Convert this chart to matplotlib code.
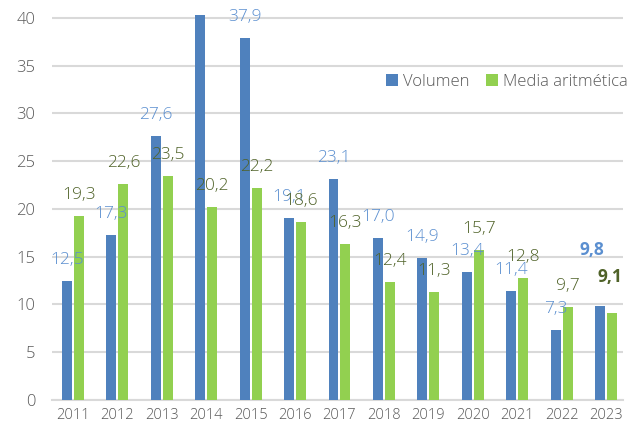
import numpy as np
import matplotlib
matplotlib.use('Agg')
from matplotlib import pyplot as plt

years = ['2011', '2012', '2013', '2014', '2015', '2016', '2017',
         '2018', '2019', '2020', '2021', '2022', '2023']
volumen = [12.5, 17.3, 27.6, 44.0, 37.9, 19.1, 23.1, 17.0, 14.9, 13.4, 11.4, 7.3, 9.8]
media = [19.3, 22.6, 23.5, 20.2, 22.2, 18.6, 16.3, 12.4, 11.3, 15.7, 12.8, 9.7, 9.1]
yticks = [0, 5, 10, 15, 20, 25, 30, 35, 40]

blue = '#4F81BD'
green = '#92D050'
blue_txt = '#5B8FD0'
green_txt = '#4F6228'
grey_txt = '#595959'

plt.rcParams['font.family'] = ['Open Sans', 'DejaVu Sans']

fig = plt.figure(figsize=(6.34, 4.30), dpi=100)
ax = fig.add_axes([52/634, 30/430, 571/634, 384.9/430])

x = np.arange(len(years))
w = 0.225
off = 0.135
ax.bar(x - off, volumen, w, color=blue, label='Volumen', zorder=3)
ax.bar(x + off, media, w, color=green, label='Media aritmética', zorder=3)

ymax = 40.3
ax.set_ylim(0, ymax)
ax.set_xlim(-0.473, 12.383)

## data labels, last year bold and moved up
px = 0.72
for i in range(len(years)):
    last = (i == len(years) - 1)
    v = volumen[i]
    if v < ymax:
        dx, dy = (-8, 56) if last else (0, 21)
        ax.annotate(('%.1f' % v).replace('.', ','), (x[i] - off, v),
                    xytext=(dx*px, dy*px), textcoords='offset points',
                    ha='center', va='center', fontsize=12.5, color=blue_txt,
                    fontweight='bold' if last else 'light', zorder=4,
                    annotation_clip=False)
    m = media[i]
    dx, dy = (-2, 36) if last else (0, 21)
    ax.annotate(('%.1f' % m).replace('.', ','), (x[i] + off, m),
                xytext=(dx*px, dy*px), textcoords='offset points',
                ha='center', va='center', fontsize=12.5, color=green_txt,
                fontweight='bold' if last else 'light', zorder=4,
                annotation_clip=False)

ax.set_yticks(yticks)
ax.set_xticks(x)
ax.set_xticklabels(years)
ax.tick_params(axis='y', length=0, labelsize=12, labelcolor=grey_txt, pad=12)
ax.tick_params(axis='x', length=0, labelsize=10.5, labelcolor=grey_txt, pad=6)
for t in ax.get_xticklabels() + ax.get_yticklabels():
    t.set_fontweight('light')
ax.yaxis.grid(True, color='#D9D9D9', lw=1.5, zorder=0)
for s in ['top', 'right', 'left']:
    ax.spines[s].set_visible(False)
ax.spines['bottom'].set_color('#D9D9D9')
ax.spines['bottom'].set_linewidth(1.5)

leg = ax.legend(loc='center right', bbox_to_anchor=(634/634, 1 - 82/430),
                bbox_transform=fig.transFigure, ncol=2, frameon=False,
                prop={'size': 12, 'weight': 'light'},
                handlelength=0.7, handleheight=0.7,
                handletextpad=0.3, columnspacing=1.0, borderaxespad=0)
for t in leg.get_texts():
    t.set_color(grey_txt)

fig.savefig('out.png', dpi=100)
